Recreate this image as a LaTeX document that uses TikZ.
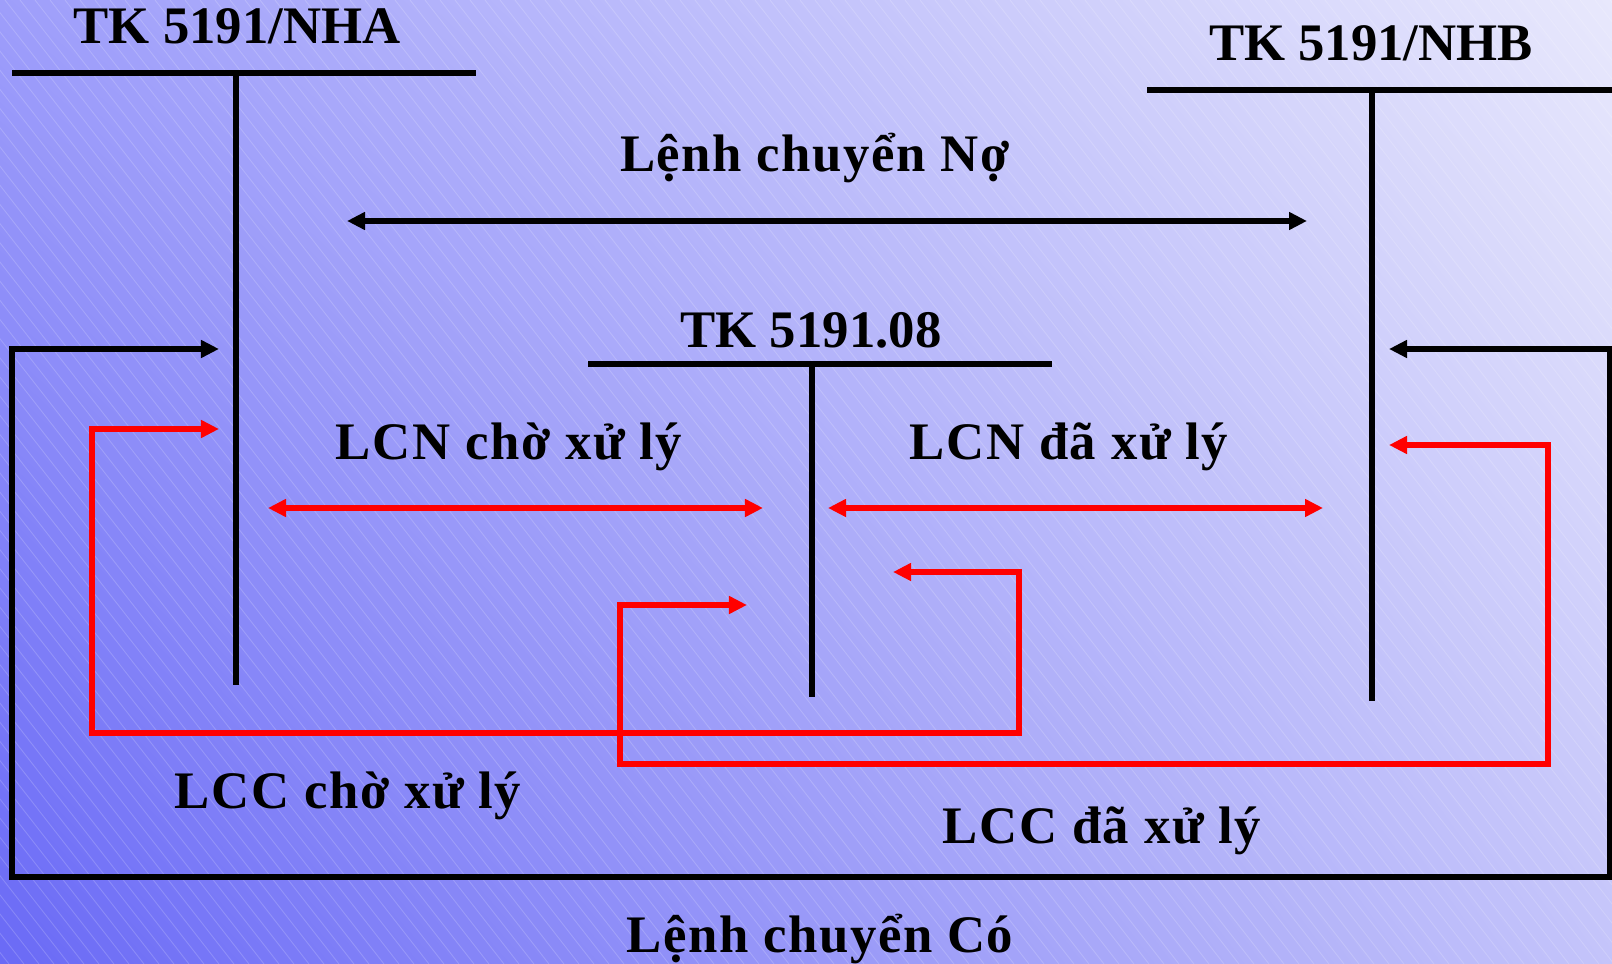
\documentclass[tikz,border=0pt]{standalone}
\usepackage{fontspec}
\setmainfont{Liberation Serif}
\newfontfamily\flowfont[LetterSpace=3]{Liberation Serif}
\usepackage{tikz}
\usetikzlibrary{
    arrows.meta,
    shadings
}
\tikzset
{
  account/.style={draw=black,line width=1.6pt},
  transfer/.style={black,line width=1.6pt,{Triangle[length=1.8mm,width=1.7mm]}-{Triangle[length=1.8mm,width=1.7mm]}},
  pending/.style={transfer,red},
  stripe/.style={draw=white,line width=0.25pt,draw opacity=0.18},
  heading/.style={anchor=base,inner sep=0pt,font=\bfseries\fontsize{15}{18}\selectfont},
  flowtext/.style={heading,font=\flowfont\bfseries\fontsize{15}{18}\selectfont}
}
\definecolor{bgdark}{RGB}{106,106,246}
\definecolor{bgmidl}{RGB}{158,158,250}
\definecolor{bgmidr}{RGB}{196,196,250}
\definecolor{bglight}{RGB}{232,232,252}

\begin{document}
\begin{tikzpicture}[x=0.01cm, y=-0.01cm]

    % Background with fine diagonal lines
    \useasboundingbox (0,0) rectangle (1612,964);
    \shade[upper left=bgmidl, upper right=bglight, lower left=bgdark, lower right=bgmidr] (0,0) rectangle (1612,964);
    \begin{scope}
      \clip (0,0) rectangle (1612,964);
      \foreach \s in {-760,-745,...,1612}
        \draw[stripe] (\s,0) -- ++(754,964);
    \end{scope}

    % Draw the account TK 5191/NHA
    \coordinate (nha) at (236,73);
    \draw[account] (12,73) -- (476,73);
    \draw[account] (nha) -- (236,685);
    \node[heading] (nhaTitle) at (237,44) {TK 5191/NHA};

    % Draw the account TK 5191/NHB
    \coordinate (nhb) at (1372,90);
    \draw[account] (1147,90) -- (1612,90);
    \draw[account] (nhb) -- (1372,701);
    \node[heading] (nhbTitle) at (1371,61) {TK 5191/NHB};

    % Draw the account TK 5191.08
    \coordinate (tk08) at (812,364);
    \draw[account] (588,364) -- (1052,364);
    \draw[account] (tk08) -- (812,697);
    \node[heading] (tk08Title) at (811,348) {TK 5191.08};

    % Ends of the transfer arrows
    \coordinate (noL) at (347,221);
    \coordinate (noR) at (1307,221);
    \coordinate (lcnChoL) at (268,508);
    \coordinate (lcnChoR) at (763,508);
    \coordinate (lcnDaL) at (828,508);
    \coordinate (lcnDaR) at (1323,508);
    \coordinate (coL) at (219,349);
    \coordinate (coR) at (1389,349);
    \coordinate (lccChoL) at (219,429);
    \coordinate (lccChoR) at (893,572);
    \coordinate (lccDaL) at (747,605);
    \coordinate (lccDaR) at (1389,445);

    % Credit transfer orders (Lenh chuyen No)
    \draw[transfer] (noL) -- (noR);
    \node[flowtext] (noText) at (815,172) {Lệnh chuyển Nợ};

    % LCN through TK 5191.08
    \draw[pending] (lcnChoL) -- (lcnChoR);
    \draw[pending] (lcnDaL) -- (lcnDaR);
    \node[flowtext] (lcnChoText) at (509,460) {LCN chờ xử lý};
    \node[flowtext] (lcnDaText) at (1069,460) {LCN đã xử lý};

    % Debit transfer orders (Lenh chuyen Co), round the outside
    \draw[transfer] (coL) -- (12,349) |- (1610,877) |- (coR);
    \node[flowtext] (coText) at (820,952) {Lệnh chuyển Có};

    % LCC through TK 5191.08
    \draw[pending] (lccChoL) -- (92,429) |- (1019,733) |- (lccChoR);
    \draw[pending] (lccDaL) -- (620,605) |- (1548,764) |- (lccDaR);
    \node[flowtext] (lccChoText) at (348,808) {LCC chờ xử lý};
    \node[flowtext] (lccDaText) at (1102,843) {LCC đã xử lý};

\end{tikzpicture}
\end{document}
